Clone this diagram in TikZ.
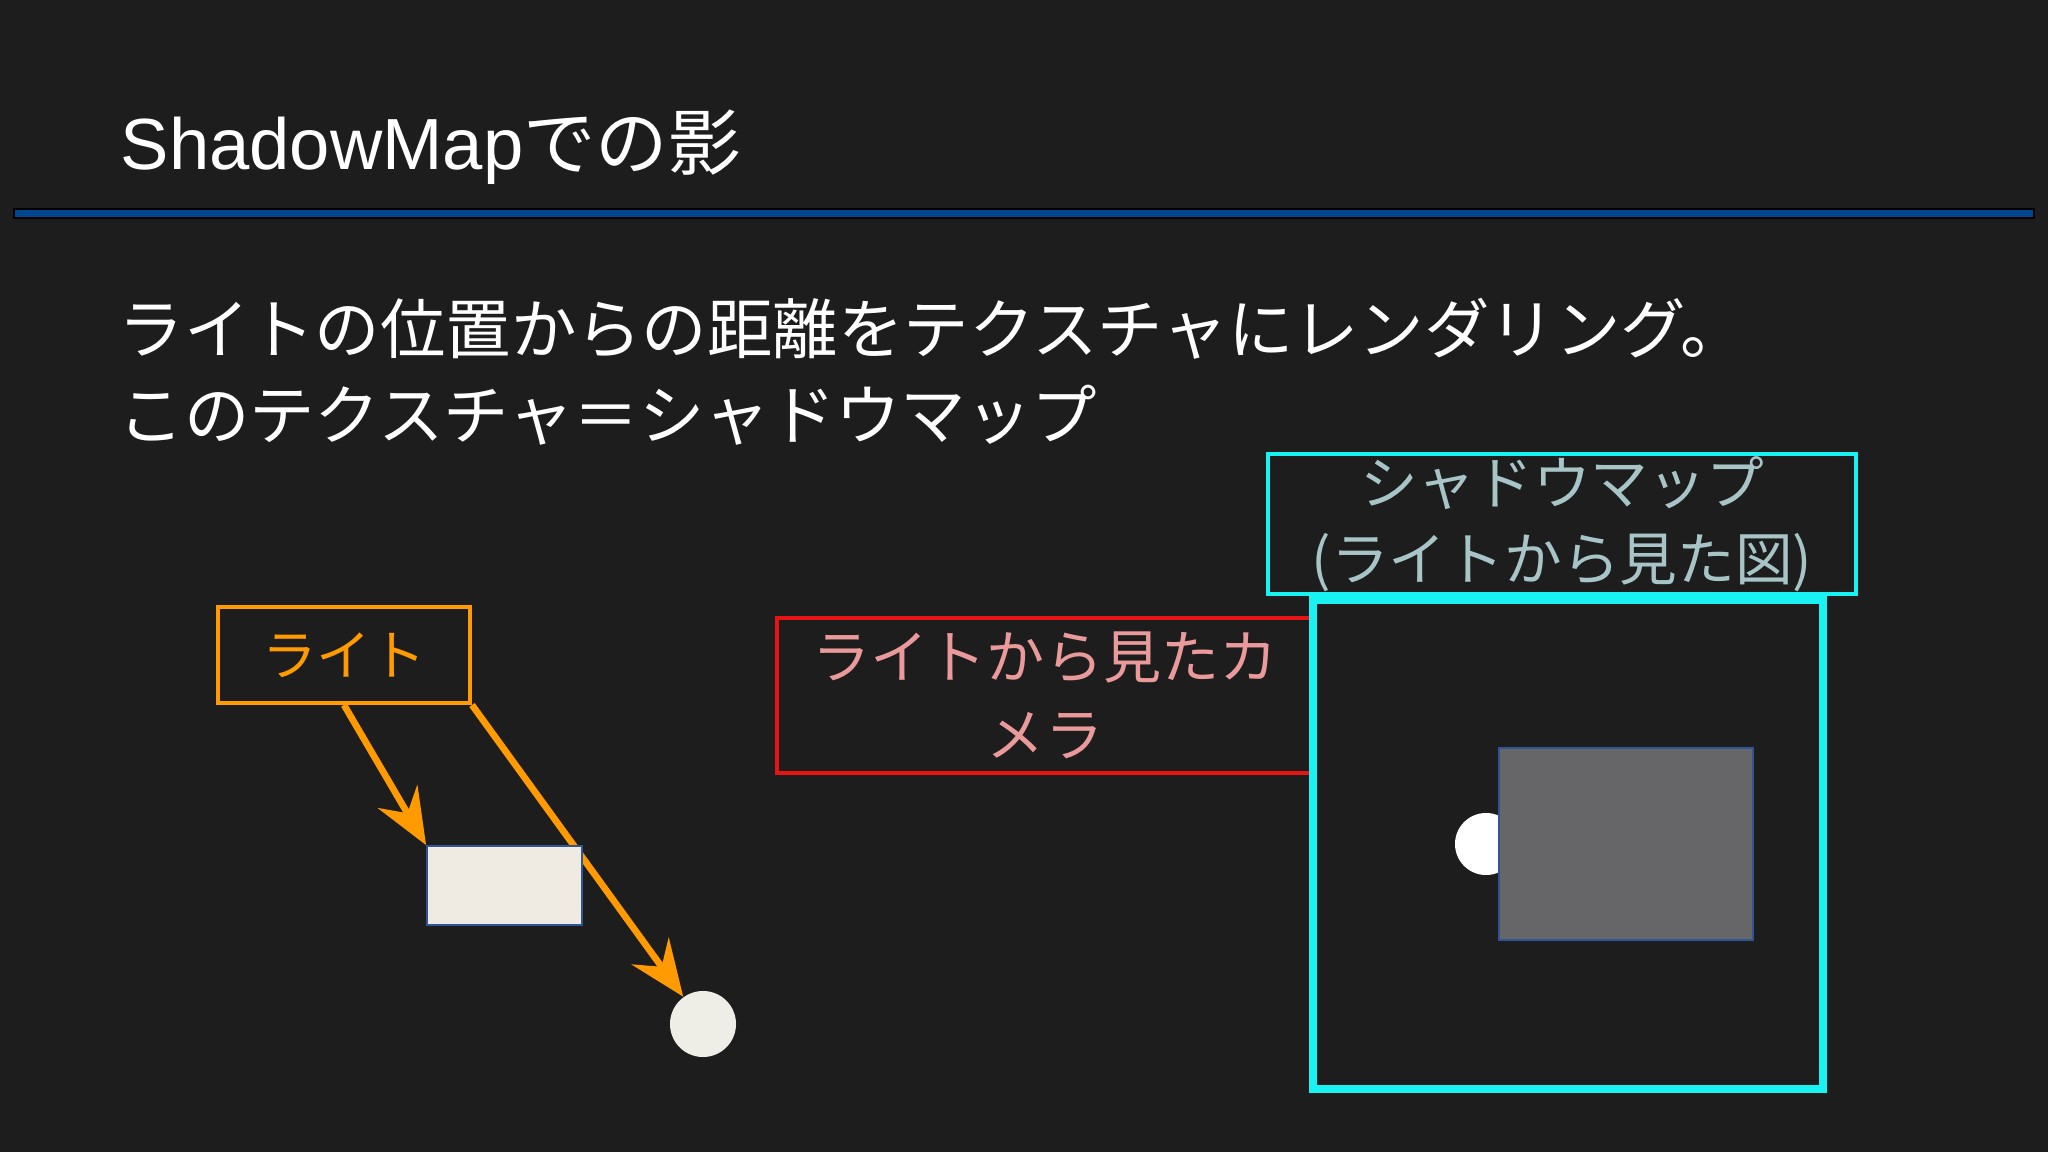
\documentclass[tikz,border=0pt]{standalone}
\usepackage{fontspec}
\setmainfont{Liberation Sans}
\newfontfamily\jpfont{Noto Sans CJK JP}
\usetikzlibrary{arrows.meta}
\usetikzlibrary{positioning}
\definecolor{slidebg}{HTML}{1D1D1D}
\definecolor{rulebar}{HTML}{00478F}
\definecolor{lightorange}{HTML}{FF9A00}
\definecolor{objfill}{HTML}{EFEBE3}
\definecolor{objedge}{HTML}{2F5597}
\definecolor{ballfill}{HTML}{EEEDE6}
\definecolor{camred}{HTML}{E81414}
\definecolor{campink}{HTML}{EA9A9A}
\definecolor{mapcyan}{HTML}{19F2F2}
\definecolor{maptext}{HTML}{A7C5C7}
\definecolor{shadowgray}{HTML}{666668}
\pgfdeclarelayer{background}
\pgfdeclarelayer{rays}
\pgfsetlayers{background,rays,main}
\tikzset{
  % slide texts
  title text/.style = {
    anchor = base west,
    inner sep = 0,
    text = white,
    font = \fontsize{20.6}{24}\selectfont
  },
  body text/.style = {
    anchor = west,
    inner sep = 0,
    text = white,
    font = \jpfont\fontsize{18.6}{22}\selectfont
  },
  % boxes with a caption inside
  caption box/.style = {
    draw,
    rectangle,
    line width = 1.1pt,
    inner sep = 0,
    align = center
  },
  light box/.style = {
    caption box,
    draw = lightorange,
    text = lightorange,
    minimum width = 2.52cm,
    minimum height = 0.96cm,
    font = \jpfont\fontsize{15.5}{17}\selectfont
  },
  camera box/.style = {
    caption box,
    draw = camred,
    text = campink,
    minimum width = 5.36cm,
    minimum height = 1.55cm,
    font = \jpfont\fontsize{16.5}{22.2}\selectfont
  },
  map label/.style = {
    caption box,
    draw = mapcyan,
    text = maptext,
    minimum width = 5.87cm,
    minimum height = 1.40cm,
    font = \jpfont\fontsize{16.4}{21.6}\selectfont
  },
  % scene objects
  block/.style = {
    draw = objedge,
    fill = objfill,
    line width = 0.5pt,
    minimum width = 1.55cm,
    minimum height = 0.79cm
  },
  ball/.style = {
    circle,
    fill = ballfill,
    minimum size = 0.66cm,
    inner sep = 0
  },
  ray/.style = {
    draw = lightorange,
    line width = 1.9pt,
    -{Stealth[length=16pt, width=13pt, inset=5.5pt]}
  }
}
\begin{document}
\begin{tikzpicture}[x=0.01cm, y=-0.01cm]
  \begin{pgfonlayer}{background}
    \fill[slidebg] (0,0) rectangle (2048,1152);
  \end{pgfonlayer}
  \useasboundingbox (0,0) rectangle (2048,1152);

  % title
  \node[title text] (title) at (120,170) {ShadowMap{\jpfont での影}};
  \draw[fill=rulebar, draw=black, line width=0.6pt] (14,209) rectangle (2034,218);

  \node[body text] (intro) at (118,329) {ライトの位置からの距離をテクスチャにレンダリング。};
  \node[body text] (intro2) at (118,415) {このテクスチャ＝シャドウマップ};

  % scene seen from the side
  \node[light box] (light) at (344,655) {ライト};
  \node[block] (obj) at (504.5,885.5) {};
  \node[ball] (target) at (703,1024) {};

  \begin{pgfonlayer}{rays}
    \draw[ray] (light.south) -- (obj.north west);
    \draw[ray] (light.south east) -- (target);
  \end{pgfonlayer}

  \node[camera box] (camera) at (1045,695.5) {ライトから見たカ\\メラ};

  % shadow map
  \node[draw=mapcyan, line width=2.3pt, minimum width=5.1cm,
    minimum height=4.89cm] (smap) at (1568,844.5) {};
  \node[map label] (maplabel) [above=0pt of smap, xshift=-0.06cm]
    {\raisebox{-0.1cm}{シャドウマップ}\\\raisebox{-0.1cm}{(ライトから見た図)}};
  \node[circle, fill=white, minimum size=0.62cm, inner sep=0] (mapball) at (1486,844) {};
  \node[draw=objedge, fill=shadowgray, line width=0.5pt, minimum width=2.54cm,
    minimum height=1.92cm] (mapobj) at (1626,844) {};
\end{tikzpicture}
\end{document}
